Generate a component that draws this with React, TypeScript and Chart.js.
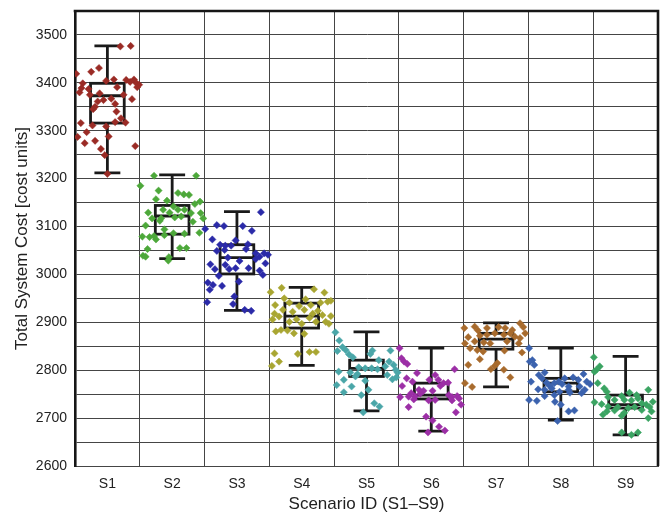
import { useEffect, useRef } from 'react';
import { Chart, registerables } from 'chart.js';

Chart.register(...registerables);

const categories = ['S1', 'S2', 'S3', 'S4', 'S5', 'S6', 'S7', 'S8', 'S9'];
const xTitle = 'Scenario ID (S1–S9)';
const yTitle = 'Total System Cost [cost units]';
const yMin = 2600;
const yMax = 3550;
const yStep = 50;

const colors = ['#9a2b25', '#4da83a', '#2b2aa8', '#a9a632', '#4aa6a8', '#9c2fa6', '#a86b2d', '#3b62ae', '#3ba462'];

// box statistics
const whiskerLow = [3212, 3033, 2925, 2810, 2715, 2673, 2765, 2696, 2665];
const q1 = [3316, 3084, 3001, 2888, 2787, 2740, 2844, 2755, 2721];
const median = [3373, 3122, 3035, 2913, 2804, 2748, 2865, 2773, 2728];
const q3 = [3399, 3144, 3062, 2940, 2821, 2773, 2877, 2783, 2748];
const whiskerHigh = [3477, 3208, 3131, 2973, 2880, 2846, 2899, 2846, 2829];

// scatter values and horizontal jitter (fraction of a category)
const s1Values = [3476, 3477, 3419, 3423, 3431, 3399, 3380, 3389, 3387, 3375, 3378, 3404, 3407, 3391, 3406, 3402, 3407, 3399, 3396, 3391, 3375, 3366, 3367, 3364, 3361, 3350, 3345, 3356, 3340, 3326, 3318, 3317, 3316, 3311, 3309, 3287, 3297, 3288, 3274, 3279, 3268, 3262, 3249, 3210];
const s1Jitter = [0.2, 0.36, -0.48, -0.25, -0.13, -0.38, -0.43, -0.4, -0.29, -0.27, -0.12, -0.02, 0.1, 0.15, 0.29, 0.35, 0.41, 0.45, 0.49, 0.46, 0.25, 0.38, 0.06, -0.06, -0.15, -0.19, -0.22, 0.12, 0.14, 0.21, 0.12, 0.28, -0.41, -0.23, -0.02, -0.46, -0.32, 0.02, -0.35, -0.19, 0.43, -0.1, -0.04, 0];

const s2Values = [3206, 3206, 3185, 3175, 3170, 3167, 3166, 3157, 3154, 3152, 3147, 3142, 3135, 3135, 3135, 3129, 3129, 3128, 3128, 3117, 3117, 3119, 3121, 3117, 3112, 3110, 3102, 3094, 3087, 3086, 3085, 3079, 3078, 3073, 3080, 3082, 3053, 3055, 3055, 3039, 3037, 3036, 3029];
const s2Jitter = [-0.28, 0.37, -0.49, -0.21, 0.09, 0.18, 0.26, -0.25, -0.08, 0.43, 0.35, 0.02, 0.09, 0.19, -0.14, -0.37, -0.04, 0.29, 0.44, -0.31, -0.17, 0.04, 0.14, 0.48, -0.19, 0.32, -0.41, -0.12, 0.42, 0.02, 0.19, -0.46, -0.35, -0.25, -0.28, -0.12, -0.38, 0.12, 0.22, -0.45, -0.41, -0.05, -0.06];

const s3Values = [3130, 3095, 3103, 3101, 3101, 3091, 3073, 3071, 3062, 3060, 3060, 3063, 3053, 3049, 3051, 3044, 3044, 3041, 3037, 3035, 3028, 3032, 3023, 3021, 3020, 3011, 3011, 3013, 3013, 3008, 2999, 2997, 2983, 2978, 2976, 2985, 2968, 2954, 2942, 2938, 2926, 2924];
const s3Jitter = [0.37, -0.49, -0.31, -0.2, 0.09, 0.23, -0.38, -0.02, -0.26, -0.18, -0.09, 0.17, 0.14, -0.31, -0.19, 0.29, 0.42, 0.48, 0.35, -0.14, 0.04, 0.29, 0.44, -0.41, -0.18, -0.34, -0.12, -0.02, 0.18, 0.35, 0.4, -0.28, -0.45, -0.37, -0.23, 0.03, -0.42, -0.04, -0.46, -0.06, 0.12, 0.22];

const s4Values = [2963, 2972, 2969, 2962, 2950, 2948, 2936, 2941, 2941, 2943, 2945, 2934, 2936, 2926, 2922, 2926, 2924, 2918, 2918, 2915, 2913, 2912, 2906, 2906, 2909, 2901, 2901, 2901, 2897, 2897, 2884, 2881, 2883, 2877, 2876, 2835, 2834, 2838, 2838, 2818, 2809];
const s4Jitter = [-0.48, -0.31, 0.19, 0.35, -0.27, 0.06, -0.41, -0.19, 0.29, 0.4, 0.45, -0.04, 0.14, -0.29, -0.14, 0.04, 0.25, -0.42, 0.17, 0.32, 0.45, -0.35, -0.45, -0.08, 0.12, -0.19, 0.22, 0.37, 0.42, 0, -0.32, -0.4, -0.22, -0.12, 0.04, -0.42, -0.06, 0.12, 0.22, -0.35, -0.46];

const s5Values = [2879, 2862, 2848, 2840, 2842, 2833, 2827, 2841, 2834, 2841, 2821, 2818, 2811, 2801, 2808, 2806, 2804, 2804, 2802, 2797, 2795, 2792, 2787, 2790, 2781, 2778, 2780, 2769, 2766, 2759, 2754, 2748, 2731, 2724, 2712, 2795, 2785];
const s5Jitter = [-0.48, -0.42, -0.37, -0.45, -0.32, -0.27, -0.21, 0.09, 0.06, 0.37, 0.19, 0.35, 0.42, 0.45, 0.29, -0.12, -0.02, 0.08, 0.17, -0.43, -0.25, -0.14, -0.17, 0.32, 0.4, -0.02, -0.35, -0.46, -0.23, 0.03, -0.35, -0.08, 0.12, 0.2, -0.05, 0.48, 0.46];

const s6Values = [2846, 2825, 2818, 2813, 2794, 2802, 2790, 2783, 2780, 2780, 2773, 2774, 2776, 2767, 2767, 2759, 2757, 2757, 2752, 2745, 2745, 2751, 2748, 2744, 2746, 2741, 2744, 2739, 2737, 2738, 2737, 2728, 2723, 2712, 2703, 2695, 2682, 2674, 2670];
const s6Jitter = [-0.49, -0.46, -0.42, -0.37, -0.22, 0.36, 0.06, -0.38, -0.03, 0.11, 0.19, 0.26, -0.29, -0.45, 0.14, -0.19, -0.12, 0.02, -0.31, -0.35, -0.25, -0.17, 0.27, 0.32, 0.4, 0.43, -0.48, -0.27, -0.04, 0.06, 0.32, 0.46, -0.35, 0.38, -0.08, 0.02, 0.12, 0.21, -0.05];

const s7Values = [2888, 2891, 2883, 2888, 2890, 2888, 2884, 2898, 2890, 2877, 2869, 2872, 2874, 2877, 2874, 2877, 2870, 2867, 2856, 2860, 2858, 2856, 2860, 2856, 2846, 2842, 2839, 2841, 2837, 2823, 2811, 2815, 2809, 2802, 2801, 2785, 2773, 2765];
const s7Jitter = [-0.49, -0.33, -0.28, -0.14, 0.04, 0.14, 0.25, 0.37, 0.42, 0.45, -0.43, -0.25, -0.14, -0.02, 0.12, 0.22, 0.29, 0.37, -0.48, -0.33, -0.19, -0.09, 0.17, 0.35, -0.4, -0.29, -0.2, 0.13, 0.4, -0.25, -0.43, 0.02, -0.02, -0.08, 0.12, 0.22, -0.48, -0.37];

const s8Values = [2846, 2821, 2818, 2811, 2795, 2790, 2783, 2792, 2783, 2785, 2780, 2776, 2774, 2773, 2776, 2771, 2776, 2771, 2767, 2766, 2766, 2760, 2759, 2762, 2759, 2759, 2755, 2753, 2752, 2746, 2748, 2738, 2736, 2734, 2728, 2714, 2716, 2694];
const s8Jitter = [-0.49, -0.44, -0.48, -0.41, -0.25, -0.34, -0.29, 0.35, 0.06, 0.19, 0.27, -0.46, -0.22, -0.1, -0.03, 0.02, 0.4, 0.45, -0.17, 0.12, 0.29, -0.35, -0.25, -0.14, 0.12, 0.37, -0.02, 0.14, 0.32, -0.25, -0.1, -0.49, -0.37, -0.09, 0, 0.12, 0.21, -0.05];

const s9Values = [2827, 2801, 2808, 2797, 2773, 2762, 2759, 2755, 2744, 2746, 2753, 2748, 2741, 2738, 2738, 2737, 2733, 2729, 2731, 2728, 2734, 2724, 2723, 2721, 2723, 2723, 2714, 2716, 2711, 2717, 2714, 2707, 2705, 2700, 2670, 2665, 2670];
const s9Jitter = [-0.49, -0.45, -0.4, -0.48, -0.43, -0.33, 0.35, -0.29, -0.27, -0.06, 0.06, 0.17, 0.19, -0.17, -0.02, 0.09, -0.48, -0.37, 0.25, 0.32, 0.42, -0.27, -0.12, 0.04, 0.14, 0.37, -0.29, -0.17, -0.02, 0.25, 0.4, -0.35, -0.06, 0.35, -0.06, 0.09, 0.19];

const allValues = [s1Values, s2Values, s3Values, s4Values, s5Values, s6Values, s7Values, s8Values, s9Values];
const allJitter = [s1Jitter, s2Jitter, s3Jitter, s4Jitter, s5Jitter, s6Jitter, s7Jitter, s8Jitter, s9Jitter];

const FONT = "'Liberation Sans', Arial, Helvetica, sans-serif";
const TEXT = '#222222';
const GRID = '#454545';

export default function App() {
  const ref = useRef<HTMLCanvasElement | null>(null);

  useEffect(() => {
    document.body.style.margin = '0';
    const canvas = ref.current;
    if (!canvas) return;

    const datasets = allValues.map((vals, i) => ({
      type: 'scatter' as const,
      label: categories[i],
      xAxisID: 'xj',
      yAxisID: 'y',
      data: vals.map((v, k) => ({ x: i + allJitter[i][k], y: v })),
      pointStyle: 'rectRot',
      pointRadius: 3.6,
      pointHoverRadius: 3.6,
      pointBackgroundColor: colors[i],
      pointBorderColor: colors[i],
      pointBorderWidth: 0.5,
      showLine: false,
    }));

    const boxHalf = 0.26;
    const capHalf = 0.2;

    const boxPlugin = {
      id: 'boxPlot',
      beforeDatasetsDraw(chart: any) {
        const ctx = chart.ctx;
        const xs = chart.scales.xj;
        const ys = chart.scales.y;
        ctx.save();
        ctx.strokeStyle = '#1a1a1a';
        ctx.lineWidth = 2.8;
        ctx.lineCap = 'butt';
        for (let i = 0; i < categories.length; i++) {
          const cx = xs.getPixelForValue(i);
          const l = xs.getPixelForValue(i - boxHalf);
          const r = xs.getPixelForValue(i + boxHalf);
          const cl = xs.getPixelForValue(i - capHalf);
          const cr = xs.getPixelForValue(i + capHalf);
          const yq1 = ys.getPixelForValue(q1[i]);
          const yq3 = ys.getPixelForValue(q3[i]);
          const ym = ys.getPixelForValue(median[i]);
          const ylo = ys.getPixelForValue(whiskerLow[i]);
          const yhi = ys.getPixelForValue(whiskerHigh[i]);
          ctx.strokeRect(l, yq3, r - l, yq1 - yq3);
          ctx.beginPath();
          ctx.moveTo(l, ym);
          ctx.lineTo(r, ym);
          ctx.moveTo(cx, yq3);
          ctx.lineTo(cx, yhi);
          ctx.moveTo(cx, yq1);
          ctx.lineTo(cx, ylo);
          ctx.moveTo(cl, yhi);
          ctx.lineTo(cr, yhi);
          ctx.moveTo(cl, ylo);
          ctx.lineTo(cr, ylo);
          ctx.stroke();
        }
        ctx.restore();
      },
    };

    const framePlugin = {
      id: 'frame',
      afterDraw(chart: any) {
        const { ctx, chartArea } = chart;
        ctx.save();
        ctx.strokeStyle = '#161616';
        ctx.lineWidth = 2.6;
        ctx.beginPath();
        ctx.moveTo(chartArea.left - 1.3, chartArea.top);
        ctx.lineTo(chartArea.right, chartArea.top);
        ctx.lineTo(chartArea.right, chartArea.bottom);
        ctx.stroke();
        ctx.restore();
      },
    };

    const chart = new Chart(canvas, {
      type: 'scatter',
      data: { datasets: datasets as any },
      options: {
        responsive: false,
        animation: false,
        devicePixelRatio: 1,
        layout: { padding: { top: 11, right: 7, bottom: 0, left: 0 } },
        plugins: {
          legend: { display: false },
          tooltip: { enabled: false },
        },
        scales: {
          x: {
            type: 'category',
            labels: categories,
            position: 'bottom',
            offset: true,
            grid: { offset: true, color: GRID, lineWidth: 1, drawTicks: false },
            border: { color: GRID, width: 1 },
            ticks: { color: TEXT, font: { family: FONT, size: 14 }, padding: 9.6 },
            title: {
              display: true,
              text: xTitle,
              color: TEXT,
              font: { family: FONT, size: 17 },
              padding: { top: 0, bottom: 0 },
            },
            afterFit(scale: any) {
              scale.height = 49;
              scale.paddingLeft = 0;
              scale.paddingRight = 0;
            },
          },
          xj: {
            type: 'linear',
            display: false,
            position: 'bottom',
            min: -0.5,
            max: 8.5,
          },
          y: {
            type: 'linear',
            min: yMin,
            max: yMax,
            grid: { color: GRID, lineWidth: 1, drawTicks: false },
            border: { color: '#161616', width: 2.6 },
            ticks: {
              stepSize: yStep,
              autoSkip: false,
              color: TEXT,
              font: { family: FONT, size: 14 },
              padding: 8,
              callback: (v: any) => (Number(v) % 100 === 0 ? String(v) : ''),
            },
            title: {
              display: true,
              text: yTitle,
              color: TEXT,
              font: { family: FONT, size: 17 },
              padding: { top: 12, bottom: 0 },
            },
            afterFit(scale: any) {
              scale.width = 75;
              scale.paddingTop = 0;
              scale.paddingBottom = 0;
            },
          },
        } as any,
      },
      plugins: [boxPlugin, framePlugin],
    });

    return () => {
      chart.destroy();
    };
  }, []);

  return (
    <canvas
      ref={ref}
      width={665}
      height={515}
      style={{ display: 'block', width: '665px', height: '515px' }}
    />
  );
}
